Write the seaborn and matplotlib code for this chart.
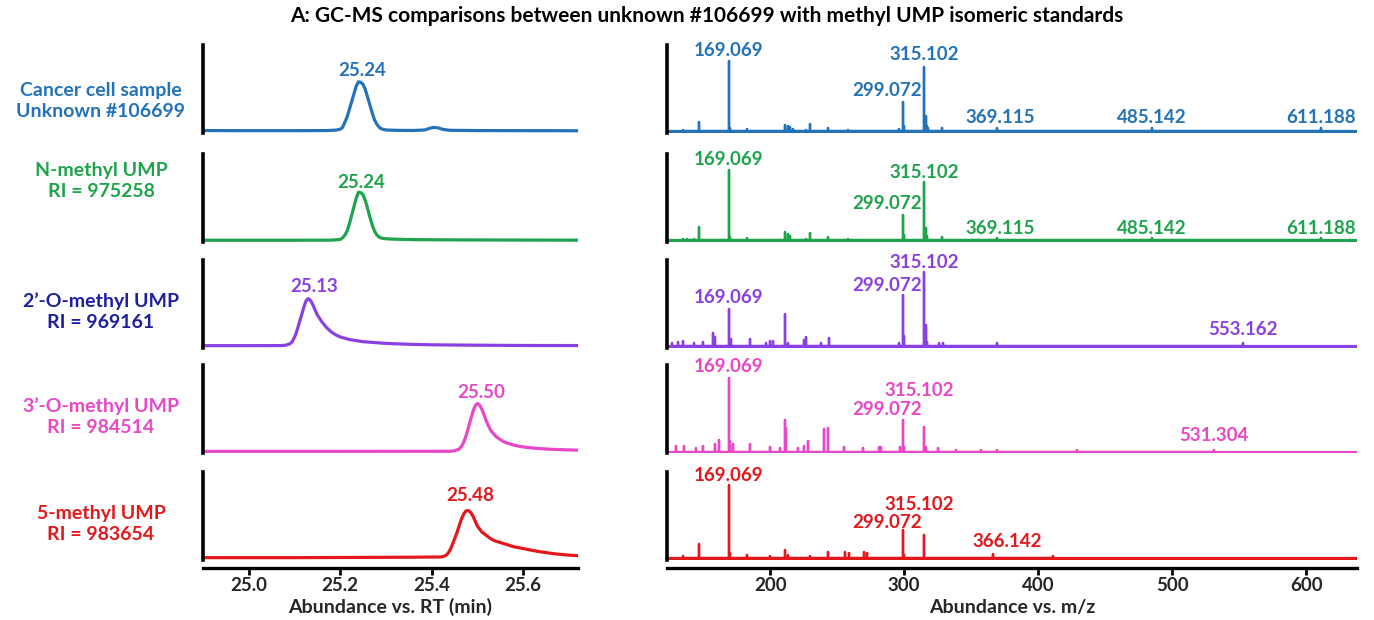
import matplotlib
matplotlib.use("Agg")
import matplotlib.pyplot as plt
import numpy as np
import pandas as pd
import seaborn as sns

# ---------------- data ----------------
title = "A: GC-MS comparisons between unknown #106699 with methyl UMP isomeric standards"
sample_names = ["Cancer cell sample", "N-methyl UMP", "2\u2019-O-methyl UMP", "3\u2019-O-methyl UMP", "5-methyl UMP"]
sample_ids = ["Unknown #106699", "RI = 975258", "RI = 969161", "RI = 984514", "RI = 983654"]

# chromatograms (retention time in min, relative abundance)
rt_cancer = [24.90, 25.00, 25.10, 25.17, 25.19, 25.20, 25.205, 25.21, 25.215, 25.22, 25.225, 25.23, 25.235,
             25.24, 25.245, 25.25, 25.255, 25.26, 25.265, 25.27, 25.275, 25.28, 25.285, 25.29, 25.30, 25.32,
             25.36, 25.385, 25.395, 25.405, 25.415, 25.425, 25.44, 25.50, 25.60, 25.72]
ab_cancer = [0.005, 0.004, 0.004, 0.005, 0.01, 0.02, 0.04, 0.10, 0.16, 0.25, 0.34, 0.43, 0.52,
             0.57, 0.565, 0.54, 0.48, 0.39, 0.30, 0.21, 0.13, 0.08, 0.045, 0.025, 0.012, 0.008,
             0.006, 0.012, 0.03, 0.042, 0.035, 0.018, 0.008, 0.005, 0.004, 0.003]

rt_nmethyl = [24.90, 25.10, 25.18, 25.20, 25.205, 25.21, 25.215, 25.22, 25.225, 25.23, 25.235, 25.24, 25.245,
              25.25, 25.255, 25.26, 25.265, 25.27, 25.275, 25.28, 25.285, 25.29, 25.30, 25.32, 25.36, 25.45,
              25.60, 25.72]
ab_nmethyl = [0.003, 0.003, 0.004, 0.012, 0.03, 0.06, 0.11, 0.19, 0.29, 0.39, 0.49, 0.56, 0.555,
              0.53, 0.46, 0.37, 0.27, 0.18, 0.11, 0.065, 0.04, 0.028, 0.02, 0.015, 0.01, 0.007,
              0.005, 0.004]

rt_2omethyl = [24.90, 25.00, 25.07, 25.08, 25.09, 25.095, 25.10, 25.105, 25.11, 25.115, 25.12, 25.125, 25.13,
               25.135, 25.14, 25.145, 25.15, 25.16, 25.17, 25.18, 25.19, 25.20, 25.22, 25.25, 25.30, 25.35,
               25.40, 25.50, 25.60, 25.72]
ab_2omethyl = [0.004, 0.004, 0.005, 0.008, 0.025, 0.05, 0.10, 0.17, 0.26, 0.35, 0.44, 0.52, 0.55,
               0.53, 0.48, 0.42, 0.36, 0.28, 0.215, 0.165, 0.13, 0.105, 0.075, 0.05, 0.03, 0.02,
               0.014, 0.009, 0.006, 0.005]

rt_3omethyl = [24.90, 25.20, 25.44, 25.45, 25.46, 25.465, 25.47, 25.475, 25.48, 25.485, 25.49, 25.495, 25.50,
               25.505, 25.51, 25.515, 25.52, 25.525, 25.53, 25.54, 25.55, 25.56, 25.58, 25.60, 25.63, 25.66,
               25.69, 25.72]
ab_3omethyl = [0.004, 0.004, 0.005, 0.01, 0.03, 0.06, 0.11, 0.18, 0.27, 0.37, 0.46, 0.53, 0.56,
               0.54, 0.49, 0.42, 0.35, 0.29, 0.24, 0.18, 0.14, 0.11, 0.075, 0.055, 0.038, 0.028,
               0.022, 0.018]

rt_5methyl = [24.90, 25.10, 25.25, 25.35, 25.42, 25.43, 25.435, 25.44, 25.445, 25.45, 25.455, 25.46, 25.465,
              25.47, 25.475, 25.48, 25.485, 25.49, 25.495, 25.50, 25.51, 25.52, 25.53, 25.54, 25.55, 25.565,
              25.58, 25.60, 25.62, 25.64, 25.67, 25.70, 25.72]
ab_5methyl = [0.004, 0.004, 0.007, 0.009, 0.012, 0.025, 0.05, 0.09, 0.15, 0.22, 0.29, 0.37, 0.45,
              0.51, 0.545, 0.55, 0.53, 0.49, 0.43, 0.37, 0.30, 0.26, 0.22, 0.195, 0.18, 0.155,
              0.13, 0.11, 0.088, 0.07, 0.048, 0.033, 0.027]

# mass spectra (m/z, relative intensity)
mz_cancer = [135, 147, 169, 170, 183, 211, 213, 215, 217, 227, 230, 243, 258, 296, 299, 300, 315, 316, 317, 318,
             328, 369, 485, 611]
int_cancer = [0.01, 0.10, 0.81, 0.04, 0.02, 0.075, 0.06, 0.05, 0.02, 0.015, 0.085, 0.04, 0.015, 0.02, 0.34, 0.06,
              0.74, 0.17, 0.06, 0.03, 0.04, 0.035, 0.03, 0.03]
lab_cancer = ["169.069", "315.102", "299.072", "369.115", "485.142", "611.188"]

mz_nmethyl = [135, 138, 143, 147, 169, 170, 183, 200, 211, 213, 215, 227, 230, 243, 258, 299, 300, 315, 316, 317,
              328, 369, 485, 611]
int_nmethyl = [0.02, 0.02, 0.015, 0.16, 0.82, 0.04, 0.03, 0.01, 0.095, 0.08, 0.05, 0.02, 0.09, 0.045, 0.015, 0.30,
               0.06, 0.68, 0.15, 0.05, 0.04, 0.03, 0.03, 0.03]
lab_nmethyl = ["169.069", "315.102", "299.072", "369.115", "485.142", "611.188"]

mz_2omethyl = [127, 131, 135, 143, 150, 157, 159, 169, 171, 185, 197, 200, 202, 211, 213, 225, 227, 238, 244, 296,
               299, 300, 315, 316, 317, 326, 329, 369, 553]
int_2omethyl = [0.04, 0.05, 0.06, 0.04, 0.045, 0.15, 0.10, 0.43, 0.08, 0.08, 0.04, 0.06, 0.06, 0.37, 0.04, 0.075,
                0.11, 0.04, 0.09, 0.03, 0.59, 0.12, 0.86, 0.24, 0.05, 0.04, 0.04, 0.03, 0.03]
lab_2omethyl = ["169.069", "315.102", "299.072", "553.162"]

mz_3omethyl = [130, 136, 145, 150, 159, 162, 169, 170, 172, 185, 200, 207, 211, 212, 221, 225, 228, 240, 243, 255,
               269, 281, 283, 297, 299, 300, 315, 316, 325, 339, 357, 369, 429, 531]
int_3omethyl = [0.065, 0.065, 0.04, 0.065, 0.085, 0.13, 0.86, 0.12, 0.09, 0.09, 0.05, 0.04, 0.37, 0.28, 0.04,
                0.07, 0.12, 0.26, 0.27, 0.05, 0.04, 0.06, 0.05, 0.06, 0.37, 0.06, 0.29, 0.05, 0.04, 0.02,
                0.025, 0.025, 0.02, 0.025]
lab_3omethyl = ["169.069", "315.102", "299.072", "531.304"]

mz_5methyl = [135, 147, 169, 170, 183, 200, 211, 213, 230, 243, 256, 259, 270, 272, 299, 300, 315, 366, 411]
int_5methyl = [0.02, 0.16, 0.85, 0.06, 0.04, 0.02, 0.09, 0.03, 0.02, 0.07, 0.065, 0.06, 0.07, 0.06, 0.33, 0.04,
               0.27, 0.05, 0.02]
lab_5methyl = ["169.069", "315.102", "299.072", "366.142"]

rt_ticks = [25.0, 25.2, 25.4, 25.6]
mz_ticks = [200, 300, 400, 500, 600]

# ---------------- style ----------------
sns.set_theme(style="white")
plt.rcParams["font.family"] = ["Lato", "DejaVu Sans"]
plt.rcParams["font.weight"] = "bold"

line_colors = ["#2472B8", "#1FA34C", "#8A41E3", "#E847C8", "#E3171C"]
name_colors = ["#2472B8", "#1FA34C", "#1E1EA0", "#E847C8", "#E3171C"]

chroms = [(rt_cancer, ab_cancer), (rt_nmethyl, ab_nmethyl), (rt_2omethyl, ab_2omethyl),
          (rt_3omethyl, ab_3omethyl), (rt_5methyl, ab_5methyl)]
spectra = [(mz_cancer, int_cancer, lab_cancer), (mz_nmethyl, int_nmethyl, lab_nmethyl),
           (mz_2omethyl, int_2omethyl, lab_2omethyl), (mz_3omethyl, int_3omethyl, lab_3omethyl),
           (mz_5methyl, int_5methyl, lab_5methyl)]

# label placement (pixels: dx, dy above peak top) per row
label_offsets = [
    {"169.069": (0, 11), "315.102": (0, 13), "299.072": (-16, 11), "369.115": (4, 10),
     "485.142": (0, 11), "611.188": (0, 11)},
    {"169.069": (0, 10), "315.102": (0, 9), "299.072": (-16, 11), "369.115": (4, 9),
     "485.142": (0, 9), "611.188": (0, 9)},
    {"169.069": (0, 11), "315.102": (0, 9), "299.072": (-16, 10), "553.162": (0, 14)},
    {"169.069": (0, 11), "315.102": (-5, 36), "299.072": (-16, 10), "531.304": (0, 14)},
    {"169.069": (0, 9), "315.102": (-5, 30), "299.072": (-16, 7), "366.142": (15, 12)},
]
rt_label_dx = [4, 3, 6, 4, 2]
rt_label_dy = [11, 10, 12, 11, 15]
name_y = [101, 181, 312, 417, 524]

W, H = 1374, 620
fig = plt.figure(figsize=(W / 100, H / 100), dpi=100)
baselines = [131, 240.5, 346, 451.7, 558]
AX_H = 88.0
YLO, YHI = -0.02, 1.0


def rect(x0, x1, base):
    bottom = base + (-YLO) / (YHI - YLO) * AX_H
    return [x0 / W, 1 - bottom / H, (x1 - x0) / W, AX_H / H]


def style_axis(ax, last):
    for s in ["top", "right", "bottom"]:
        ax.spines[s].set_visible(False)
    ax.spines["left"].set_linewidth(2.6)
    ax.spines["left"].set_color("black")
    ax.set_yticks([])
    ax.set_ylim(YLO, YHI)
    ax.set_ylabel("")
    ax.set_xlabel("")
    if last:
        ax.spines["bottom"].set_visible(True)
        ax.spines["bottom"].set_color("black")
        ax.spines["bottom"].set_linewidth(2.4)
        ax.spines["bottom"].set_position(("outward", 6))
        ax.tick_params(axis="x", direction="out", length=5, width=2, color="black",
                       labelsize=13.5, pad=1.5, bottom=True)
        for t in ax.get_xticklabels():
            t.set_fontweight("bold")
    else:
        ax.set_xticks([])


for i in range(5):
    last = i == 4
    col = line_colors[i]
    # ---- chromatogram
    axl = fig.add_axes(rect(203, 578, baselines[i]))
    rt, ab = chroms[i]
    df = pd.DataFrame({"rt": rt, "ab": ab})
    sns.lineplot(data=df, x="rt", y="ab", ax=axl, color=col, lw=2.3, estimator=None, sort=False)
    axl.set_xlim(24.90, 25.72)
    if last:
        axl.set_xticks(rt_ticks)
        axl.set_xticklabels([f"{v:.1f}" for v in rt_ticks])
    style_axis(axl, last)
    k = int(np.argmax(ab))
    axl.annotate(f"{rt[k]:.2f}", xy=(rt[k], ab[k]), xytext=(rt_label_dx[i], rt_label_dy[i]),
                 textcoords="offset pixels", ha="center", va="center", color=col,
                 fontsize=13.5, fontweight="bold", annotation_clip=False)

    # ---- spectrum
    axr = fig.add_axes(rect(667, 1357, baselines[i]))
    mz, inten, labs = spectra[i]
    px, py = [], []
    for m, h in zip(mz, inten):
        px += [m, m, m]
        py += [0, h, 0]
    sdf = pd.DataFrame({"mz": px, "int": py})
    axr.axhline(0, color=col, lw=2.3)
    sns.lineplot(data=sdf, x="mz", y="int", ax=axr, color=col, lw=1.7, estimator=None, sort=False)
    axr.set_xlim(123, 638)
    if last:
        axr.set_xticks(mz_ticks)
        axr.set_xticklabels([str(v) for v in mz_ticks])
    style_axis(axr, last)
    for lab in labs:
        target = float(lab)
        j = int(np.argmin([abs(m - target) for m in mz]))
        dx, dy = label_offsets[i][lab]
        axr.annotate(lab, xy=(mz[j], inten[j]), xytext=(dx, dy), textcoords="offset pixels",
                     ha="center", va="center", color=col, fontsize=13.5, fontweight="bold",
                     annotation_clip=False)

    # ---- sample name
    fig.text(101 / W, 1 - name_y[i] / H, sample_names[i] + "\n" + sample_ids[i], ha="center", va="center",
             multialignment="center", color=name_colors[i], fontsize=14, fontweight="bold", linespacing=1.3)

fig.text(707 / W, 1 - 16 / H, title, ha="center", va="center", fontsize=15, fontweight="bold", color="black")
fig.text(390 / W, 1 - 607 / H, "Abundance vs. RT (min)", ha="center", va="center", fontsize=14,
         fontweight="bold")
fig.text(1012 / W, 1 - 607 / H, "Abundance vs. m/z", ha="center", va="center", fontsize=14,
         fontweight="bold")

fig.savefig("out.png", dpi=100, facecolor="white")
